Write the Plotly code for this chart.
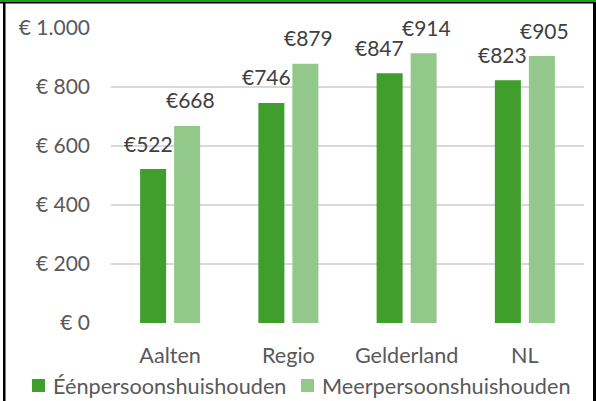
import plotly.graph_objects as go

# Data
categories = ["Aalten", "Regio", "Gelderland", "NL"]
eenpersoons = [522, 746, 847, 823]
meerpersoons = [668, 879, 914, 905]
series_names = ["Éénpersoonshuishouden", "Meerpersoonshuishouden"]
y_tickvals = [0, 200, 400, 600, 800, 1000]
y_ticktext = ["€ 0", "€ 200", "€ 400", "€ 600", "€ 800", "€ 1.000"]

W, H = 596, 401
DARK = "#409e2c"
LIGHT = "#92c98a"
FONT = "Lato"
TEXT_GREY = "#595959"
LABEL_GREY = "#404040"


def px(x):
    return x / W


def py(y):
    return 1 - y / H


fig = go.Figure()
fig.add_trace(go.Bar(x=categories, y=eenpersoons, name=series_names[0],
                     marker=dict(color=DARK, line=dict(width=0))))
fig.add_trace(go.Bar(x=categories, y=meerpersoons, name=series_names[1],
                     marker=dict(color=LIGHT, line=dict(width=0))))

# value labels sit above each bar, nudged sideways like the spreadsheet layout
label_dx = {0: -22, 1: 20}
extra_dx = {"Gelderland": -5}
annotations = []
for s, vals in enumerate([eenpersoons, meerpersoons]):
    for cat, v in zip(categories, vals):
        dx = label_dx[s] + (extra_dx.get(cat, 0) if s == 0 else 0)
        annotations.append(dict(
            x=cat, y=v, xref="x", yref="y", text=f"€{v}", showarrow=False,
            xshift=dx, yshift=26, yanchor="middle", xanchor="center",
            font=dict(family=FONT, size=21, color=LABEL_GREY)))

# legend drawn below the categories
legend_items = [(series_names[0], DARK, 32, 51), (series_names[1], LIGHT, 301, 320)]
shapes = []
for name, col, sx, tx in legend_items:
    shapes.append(dict(type="rect", xref="paper", yref="paper",
                       x0=px(sx), x1=px(sx + 13), y0=py(392), y1=py(379),
                       fillcolor=col, line=dict(width=0)))
    annotations.append(dict(x=px(tx), y=py(386), xref="paper", yref="paper",
                            text=name, showarrow=False, xanchor="left",
                            yanchor="middle",
                            font=dict(family=FONT, size=21.7, color=TEXT_GREY)))

# frame lines around the chart
shapes += [
    dict(type="rect", xref="paper", yref="paper", x0=0, x1=1, y0=py(2), y1=1,
         fillcolor="#17a317", line=dict(width=0), layer="above"),
    dict(type="rect", xref="paper", yref="paper", x0=0, x1=1, y0=py(3.5), y1=py(2),
         fillcolor="#000000", line=dict(width=0), layer="above"),
    dict(type="rect", xref="paper", yref="paper", x0=px(3), x1=px(5.5), y0=0, y1=py(2),
         fillcolor="#000000", line=dict(width=0), layer="above"),
    dict(type="rect", xref="paper", yref="paper", x0=px(593), x1=1, y0=0, y1=py(2),
         fillcolor="#000000", line=dict(width=0), layer="above"),
]

fig.update_layout(
    width=W, height=H,
    margin=dict(l=0, r=0, t=0, b=0, pad=0, autoexpand=False),
    paper_bgcolor="white", plot_bgcolor="white",
    barmode="group", bargap=0.425, bargroupgap=0.235,
    showlegend=False,
    annotations=annotations, shapes=shapes,
    font=dict(family=FONT, size=21, color=TEXT_GREY),
    xaxis=dict(domain=[px(111), px(584)], showgrid=False, zeroline=False,
               showline=False, ticks="", ticklabelstandoff=17, automargin=False,
               tickfont=dict(family=FONT, size=21.6, color=TEXT_GREY)),
    yaxis=dict(domain=[py(323), py(28)], range=[0, 1000],
               tickvals=y_tickvals, ticktext=y_ticktext, automargin=False,
               showgrid=True, gridcolor="#d9d9d9", gridwidth=1.5,
               zeroline=False, showline=False, ticks="", ticklabelstandoff=20,
               tickfont=dict(family=FONT, size=21, color=TEXT_GREY)),
)

fig.write_html("out.html")
